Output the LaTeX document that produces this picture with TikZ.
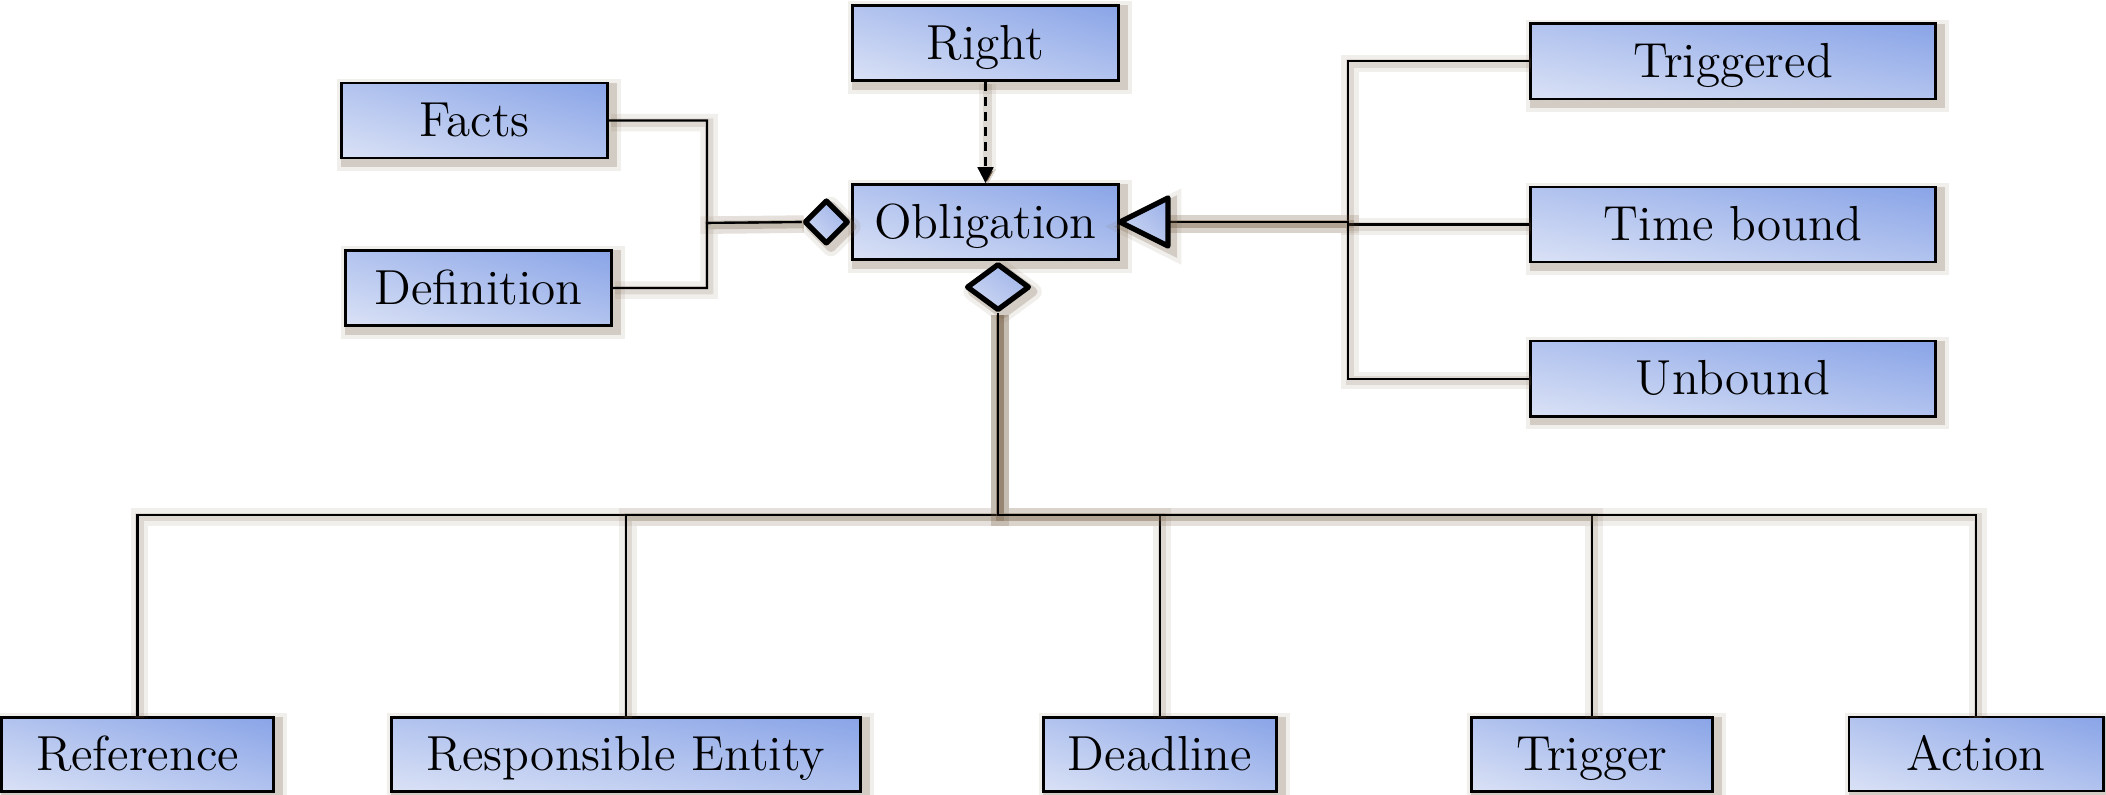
\documentclass[tikz,border=0pt]{standalone}
\usepackage{tikz}
\usetikzlibrary{positioning}
\usetikzlibrary{arrows.meta}
\usetikzlibrary{shapes.geometric}

\definecolor{glow}{RGB}{118,96,70}
% light corner bottom left, dark corner top right
\pgfdeclarefunctionalshading{boxshade}{\pgfpoint{0bp}{0bp}}{\pgfpoint{100bp}{100bp}}{}{
   add 50 sub 100 div
   dup 0 lt {pop 0} if dup 1 gt {pop 1} if
   dup dup
   -0.057 mul 0.963 add 3 1 roll
   -0.242 mul 0.885 add 3 1 roll
   -0.318 mul 0.855 add 3 1 roll
}
\pgfdeclarefunctionalshading{tipshade}{\pgfpoint{0bp}{0bp}}{\pgfpoint{100bp}{100bp}}{}{
   add 50 sub 100 div
   dup 0 lt {pop 0} if dup 1 gt {pop 1} if
   dup dup
   -0.045 mul 0.955 add 3 1 roll
   -0.180 mul 0.865 add 3 1 roll
   -0.230 mul 0.830 add 3 1 roll
}

\begin{document}
\begin{tikzpicture}[x=0.01cm,y=-0.01cm,on grid,
   glowbox/.style={preaction={draw=glow,line width=5pt,draw opacity=0.10,
        transform canvas={xshift=1.3pt,yshift=-1.3pt}},
      preaction={draw=glow,line width=2.6pt,draw opacity=0.24,
        transform canvas={xshift=1.3pt,yshift=-1.3pt}}},
   box/.style={glowbox,draw,line width=0.8pt,rectangle,inner sep=0pt,
      shade,shading=boxshade,
      minimum height=0.75cm,text height=9.2pt,text depth=0pt,
      font=\fontsize{14}{16}\selectfont},
   agg/.style={glowbox,diamond,draw,line width=1.5pt,line join=round,inner sep=0pt,
      shade,shading=tipshade},
   conn/.style={draw,line width=0.6pt,
      preaction={draw=glow,line width=5pt,draw opacity=0.10,
        transform canvas={xshift=0.6pt,yshift=-0.6pt}},
      preaction={draw=glow,line width=2.4pt,draw opacity=0.16,
        transform canvas={xshift=0.6pt,yshift=-0.6pt}}}]
   \useasboundingbox (0,0) rectangle (2106,795);

   % centre
   \node[box,minimum width=2.66cm] (Obl) at (985.5,222) {Obligation};
   \node[box,minimum width=2.66cm] (Right) [above=1.79cm of Obl] {Right};
   \node[box,minimum width=2.66cm] (Facts) at (474.5,120.5) {Facts};
   \node[box,minimum width=2.66cm] (Def) at (478.5,288) {Definition};

   % kinds
   \node[box,minimum width=4.05cm] (Tb) at (1733,224.5) {Time bound};
   \node[box,minimum width=4.05cm] (Trd) [above=1.63cm of Tb] {Triggered};
   \node[box,minimum width=4.05cm] (Ub) [below=1.54cm of Tb] {Unbound};

   % parts
   \node[box,minimum width=2.72cm,minimum height=0.74cm] (Ref) at (137.5,754.5) {Reference};
   \node[box,minimum width=4.69cm,minimum height=0.74cm] (Resp) at (626,754.5) {Responsible Entity};
   \node[box,minimum width=2.33cm,minimum height=0.74cm] (Dead) at (1160,754.5) {Deadline};
   \node[box,minimum width=2.41cm,minimum height=0.74cm] (Trig) at (1592,754.5) {Trigger};
   \node[box,minimum width=2.54cm,minimum height=0.74cm] (Act) at (1976,754) {Action};

   % ends
   \node[agg,minimum width=0.44cm,minimum height=0.44cm,anchor=east] (aggL) at (Obl.west) {};
   \node[agg,minimum width=0.63cm,minimum height=0.47cm,anchor=north] (aggB) at ([xshift=0.125cm]Obl.south) {};
   \coordinate (gen) at ([xshift=0.48cm]Obl.east);
   \coordinate (jl) at (707,223);
   \coordinate (jr) at (1348,222);
   \coordinate (bus) at (aggB.south |- 0,515);

   \foreach \n in {Facts,Def}
      \draw[conn] (\n.east) -| (jl) -- (aggL.west);
   \foreach \n in {Trd,Tb,Ub}
      \draw[conn] (\n.west) -| (jr) -- (gen);
   \foreach \n in {Ref,Resp,Dead,Trig,Act}
      \draw[conn] (aggB.south) -- (bus) -| (\n.north);
   \draw[conn,dash pattern=on 2.5pt off 1.8pt,-{Triangle[length=4.5pt,width=4.5pt]}] (Right.south) -- (Obl.north);

   \draw[glowbox,line width=1.5pt,line join=round,shade,shading=tipshade]
      (Obl.east) -- ++(48,-24) -- ++(0,48) -- cycle;
\end{tikzpicture}
\end{document}
